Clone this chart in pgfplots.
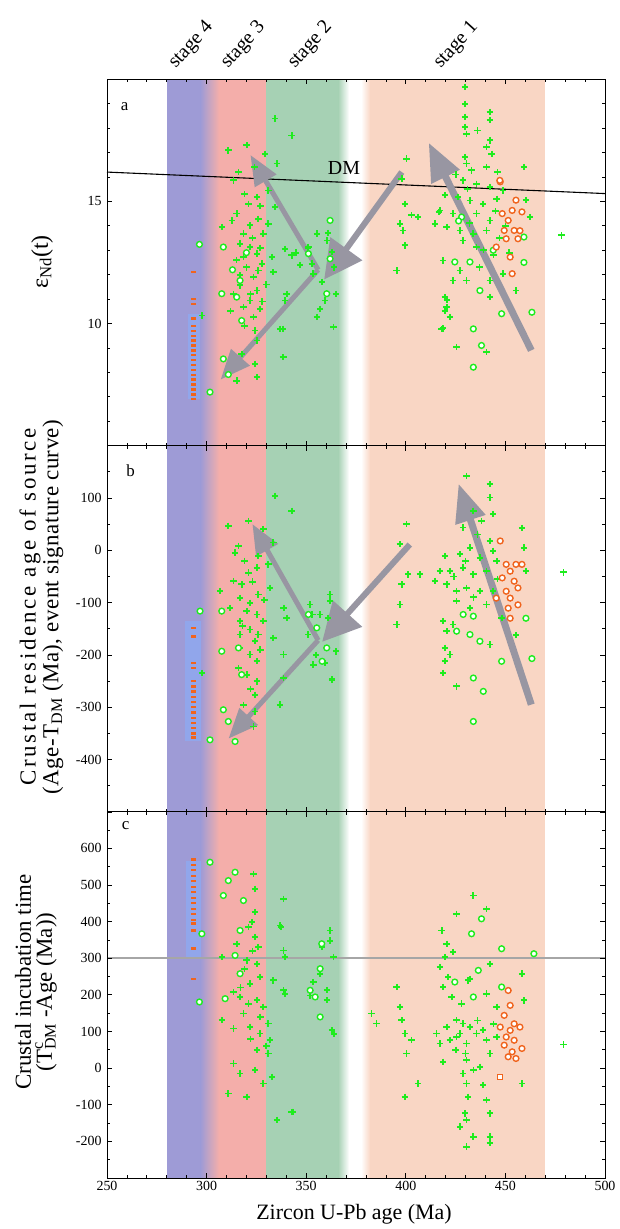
\documentclass[border=0pt]{standalone}
\usepackage{fontspec}
\setmainfont{Liberation Serif}
\usepackage{graphicx}
\usepackage{pgfplots}
\pgfplotsset{compat=1.18}
\usetikzlibrary{arrows.meta}

\definecolor{bandblue}{RGB}{158,155,214}
\definecolor{bandred}{RGB}{244,174,170}
\definecolor{bandgreen}{RGB}{166,209,180}
\definecolor{bandorange}{RGB}{249,214,196}
\definecolor{ptgreen}{RGB}{30,236,30}
\definecolor{ptorange}{RGB}{240,100,30}
\definecolor{arrowgray}{RGB}{152,150,162}
\definecolor{glowblue}{RGB}{140,172,245}

% coloured stage bands, drawn inside each panel
\newcommand{\bands}[2]{%
  \fill[bandblue] (axis cs:280,#1) rectangle (axis cs:297.2,#2);
  \shade[left color=bandblue,right color=bandred] (axis cs:297,#1) rectangle (axis cs:306.2,#2);
  \fill[bandred] (axis cs:306,#1) rectangle (axis cs:330.2,#2);
  \fill[bandgreen] (axis cs:330,#1) rectangle (axis cs:366.2,#2);
  \shade[left color=bandgreen,right color=white] (axis cs:366,#1) rectangle (axis cs:371.5,#2);
  \shade[left color=white,right color=bandorange] (axis cs:377.5,#1) rectangle (axis cs:382.2,#2);
  \fill[bandorange] (axis cs:382,#1) rectangle (axis cs:470,#2);
}

\tikzset{bigarrow/.style={arrowgray, line width=#1}}

\pgfplotsset{
  panel/.style={
    scale only axis, width=498bp, height=366.3bp,
    xmin=250, xmax=500, xtick={250,300,...,500}, minor x tick num=4,
    xticklabels={},
    tick align=inside, xtick pos=both, ytick pos=both,
    major tick length=5bp, minor tick length=3bp,
    axis on top, clip=false,
    axis line style={line width=0.9pt},
    every tick/.style={black, line width=0.7pt},
    tick label style={font=\fontsize{14}{16}\selectfont},
    yticklabel style={xshift=-2bp},
  },
  gplus/.style={only marks, mark=+, mark size=3.2pt, line width=1.8pt, color=ptgreen},
  gring/.style={only marks, mark=*, mark size=2.9pt, line width=1.4pt,
                draw=ptgreen, fill=white},
  oring/.style={only marks, mark=*, mark size=2.9pt, line width=1.4pt,
                draw=ptorange, fill=white},
  obar/.style={only marks, mark=-, mark size=2.6pt, line width=2.4pt, color=ptorange},
}

\begin{document}
\begin{tikzpicture}
\useasboundingbox (0,0) rectangle (620bp,1229bp);

% ================= panel a =================
\begin{axis}[panel, at={(107bp,783.4bp)}, anchor=south west,
  ymin=5, ymax=20, ytick={5,10,15,20}, yticklabels={,10,15,}, minor y tick num=4]
\bands{5}{20}
\fill[glowblue, opacity=0.7] (axis cs:290.5,6.9) rectangle (axis cs:296.5,10.4);
\addplot[black, line width=1.1pt] coordinates {(250,16.2) (500,15.32)};
% trend arrows
\draw[bigarrow=7bp, -{Triangle[width=30bp,length=38bp]}]
  (axis cs:463,8.9) -- (axis cs:411.5,17.4);
\draw[bigarrow=6bp, -{Triangle[width=38bp,length=38bp]}]
  (axis cs:398,16.2) -- (axis cs:359,11.8);
\draw[bigarrow=5bp, -{Triangle[width=24bp,length=30bp]}]
  (axis cs:356,12.2) -- (axis cs:307,7.7);
\draw[bigarrow=5bp, -{Triangle[width=24bp,length=30bp]}]
  (axis cs:356,12.2) -- (axis cs:322,16.9);
\addplot[obar] coordinates {(293.5,12.1) (293.5,11.0) (293.5,10.8) (293.5,10.2) (293.5,9.9)
  (293.5,9.7) (293.5,9.5) (293.5,9.3) (293.5,9.1) (293.5,8.9) (293.5,8.7) (293.5,8.5)
  (293.5,8.3) (293.5,8.1) (293.5,7.9) (293.5,7.7) (293.5,7.5) (293.5,7.3) (293.5,7.1) (293.5,6.9)};
\addplot[gplus] coordinates {
  (297.6,10.33) (334.4,18.39) (342.7,17.7) (320.1,17.3) (310.9,17.09) (329.4,16.95)
  (335.2,16.55) (316,16.2) (313.5,15.86) (331,15.45) (325.2,15.18) (334.4,14.77) (321,14.9)
  (315.1,14.5) (326,14.29) (331,14.09) (312.6,14.22) (307.6,13.95) (321.8,14.02) (318.5,13.68)
  (328.5,13.68) (316.8,13.27) (321.8,13.13) (325.2,12.86) (318.5,12.72) (339.4,13.06)
  (342.7,12.79) (332.7,12.72) (327.7,12.45) (326,12.17) (316.8,11.97) (323.5,11.9) (333.5,12.1)
  (316.8,11.56) (325.2,11.35) (313.5,11.2) (321.8,10.94) (340.2,11.22) (339.4,10.94)
  (318.5,10.67) (326.8,10.6) (323.5,10.26) (324.3,9.71) (325.2,9.3) (336.9,9.78) (317.6,8.76)
  (324.3,8.35) (338.6,8.62) (315.1,7.66) (325.2,7.8) (319,15.3) (323,13.5) (320,12.3)
  (327,13.1) (322,11.2) (319,9.9) (328,10.9) (330,11.6) (315,12.6) (312,10.5) (324,16.4)
  (327,14.8)
  (351.1,13.13) (355.3,13.68) (360.3,13.4) (362.8,12.92) (352.8,12.45) (353.6,12.04)
  (357.8,11.7) (359.5,10.94) (357,10.6) (355.3,10.26) (363.7,9.85) (347,12.4) (351,13.1)
  (365,11.2) (338.2,9.78) (338.2,8.62) (345,12.9) (361,13.7) (364,12.3)
  (429.7,19.69) (429.7,19.0) (429.7,18.46) (442.2,18.66) (442.2,18.32) (429.7,18.05)
  (430.5,17.77) (442.2,17.5) (440.5,17.23) (443.1,16.95) (429.7,16.82) (430.5,16.55)
  (440.5,16.41) (433,16.27) (400.4,16.75) (397.9,15.93) (428.8,15.86) (435.5,15.72)
  (442.2,15.59) (448.9,15.45) (419.6,15.25) (426.3,15.18) (432.2,15.04) (438.9,14.9)
  (445.6,15.11) (417.1,14.63) (423.8,14.5) (435.5,14.5) (442.2,14.22) (399.5,14.9) (397,14.09)
  (402.9,14.43) (406.2,14.36) (414.6,14.09) (420.5,13.95) (427.2,13.81) (433.9,13.68)
  (440.5,13.81) (428.8,13.4) (435.5,13.13) (399.5,13.2) (398.7,13.81) (395.4,12.17)
  (418.8,12.58) (427.2,12.17) (430.5,11.76) (423.8,11.76) (442.2,11.76) (442.2,11.08)
  (448.9,12.04) (419.6,11.08) (420.5,10.67) (422.1,10.26) (418,9.78) (425.5,9.03) (440.5,8.83)
  (459.3,16.4) (460.3,15.05) (462.3,14.36) (455.3,11.35) (478.2,13.61) (416.6,14.57)
  (420.6,10.95) (419.6,10.5) (418.6,9.8) (445,14.6) (447,13.5) (444,12.8) (437,12.3)
  (431,15.5) (425,16.1) (436,17.9) (446,16.2) (450,14.0) (452,12.9) (439,13.0) (432,14.1)};
\addplot[gring] coordinates {
  (296.4,13.24) (308.4,13.13) (307.6,11.22) (316.8,11.76) (315.1,11.08) (317.6,10.12)
  (308.4,8.55) (310.9,7.91) (301.7,7.19) (362,14.22) (360.3,11.22) (351.1,12.86) (362,12.65)
  (428,14.36) (443.9,13.0) (424.6,12.52) (432.2,12.52) (437.2,11.35) (433.9,9.78) (448.1,10.4)
  (438,9.1) (433.9,8.21) (459.3,13.54) (459.3,12.5) (463.3,10.46) (426.5,14.2) (313,12.2)
  (320,12.9)};
\addplot[oring] coordinates {
  (447.4,15.8) (455.3,15.05) (458.3,14.57) (453.4,14.63) (451.4,14.22) (454.4,13.81)
  (449.4,13.81) (456.3,13.47) (450.4,13.47) (445.4,13.13) (452.4,12.72) (453.4,12.04)
  (457.3,13.8) (448.4,14.5) (447.2,15.86)};
\node[font=\fontsize{20}{20}\selectfont, anchor=south, inner sep=1bp] at (axis cs:369,16.05) {DM};
\node[font=\fontsize{17}{17}\selectfont] at (axis cs:258.8,18.9) {a};
\end{axis}

% ================= panel b =================
\begin{axis}[panel, at={(107bp,417.1bp)}, anchor=south west,
  ymin=-500, ymax=200, ytick={-500,-400,...,200},
  yticklabels={,-400,-300,-200,-100,0,100,}, minor y tick num=1]
\bands{-500}{200}
\fill[glowblue, opacity=0.7] (axis cs:289,-365) rectangle (axis cs:297,-135);
\draw[bigarrow=7bp, -{Triangle[width=30bp,length=38bp]}]
  (axis cs:463,-295) -- (axis cs:426.5,127);
\draw[bigarrow=6bp, -{Triangle[width=38bp,length=38bp]}]
  (axis cs:402,11) -- (axis cs:358,-175);
\draw[bigarrow=5bp, -{Triangle[width=24bp,length=30bp]}]
  (axis cs:356,-172) -- (axis cs:311,-360);
\draw[bigarrow=5bp, -{Triangle[width=24bp,length=30bp]}]
  (axis cs:356,-172) -- (axis cs:323,50);
\addplot[obar] coordinates {(293.5,-148) (293.5,-165) (293.5,-215) (293.5,-225) (293.5,-250)
  (293.5,-260) (293.5,-270) (293.5,-280) (293.5,-290) (293.5,-300) (293.5,-310) (293.5,-320)
  (293.5,-330) (293.5,-340) (293.5,-350) (293.5,-358)};
\addplot[gplus] coordinates {
  (334.4,104.1) (342.7,75.4) (310.9,46.6) (321,56.2) (328.5,40.2) (316,8.3) (314.3,-4.5)
  (333.5,14.7) (326,-10.9) (325.2,-33.2) (331,-26.9) (321,-42.8) (313.5,-58.8) (317.6,-65.2)
  (331.9,-71.6) (306.8,-78) (326,-84.4) (316.8,-90.8) (321.8,-100.3) (311.8,-109.9)
  (320.1,-116.3) (325.2,-122.7) (338.6,-109.9) (340.2,-129.1) (316.8,-135.5) (328.5,-135.5)
  (321.8,-151.5) (316.8,-161) (326,-161) (333.5,-167.4) (338.6,-199.4) (324.3,-173.8)
  (316.8,-186.6) (321.8,-199.4) (325.2,-212.2) (316,-225) (320.1,-237.7) (325.2,-250.5)
  (324.3,-276.1) (338.6,-244.1) (336.9,-295.2) (324.3,-308) (323.5,-336.8) (318.5,-295.2)
  (297.6,-234.5) (319,-20) (323,-60) (329,-95) (318,-145) (327,-190) (322,-265)
  (357,-122.7) (362,-84.4) (353.6,-218.6) (359.5,-215.4) (362.8,-247.3) (352,-103.5)
  (353.1,-122.8) (361,-129) (362,-97) (351,-161) (365,-193.2) (363,-246.7) (355,-200)
  (339,-110) (337,-295)
  (430.5,142.4) (442.2,126.5) (442.2,100.9) (433.9,75.3) (428.8,43.4) (438,56.2) (443.9,69)
  (400.4,49.8) (397,11.5) (442.2,17.8) (432.2,5) (427.2,-7.7) (437.2,-14.1) (443.9,-1.3)
  (419.6,-10.9) (417.1,-39.7) (422.1,-39.7) (428.8,-33.3) (433.9,-46.1) (440.5,-39.7)
  (445.6,-20.5) (401.2,-46.1) (407.1,-46.1) (397.9,-65.2) (397,-103.6) (414.6,-58.8)
  (420.5,-65.2) (425.5,-78) (430.5,-71.6) (437.2,-78) (443.9,-78) (425.5,-97.2) (432.2,-110)
  (440.5,-103.6) (448.1,-129.1) (418.8,-135.5) (423.8,-141.9) (395.4,-141.9) (420.5,-154.7)
  (442.2,-180.3) (419.6,-186.6) (422.1,-199.4) (419.6,-212.2) (418.8,-234.6) (425.5,-260.1)
  (458.3,42.7) (459.3,5) (460.3,-40) (455.3,-162) (479.2,-42.3) (436,30) (430,-20) (446,-55)
  (424,-50) (434,-90)};
\addplot[gring] coordinates {
  (296.7,-116.3) (307.6,-116.3) (307.6,-193) (316,-186.6) (317.6,-237.7) (308.4,-304.8)
  (310.9,-327.2) (301.7,-362.3) (314.3,-365.5) (351.1,-122.7) (355.3,-148.3) (360.3,-186.6)
  (358,-212.2) (428.8,-122.7) (433.9,-126) (425.5,-154.7) (432.2,-161) (437.2,-173.9)
  (448.1,-212.2) (433.9,-244.1) (438.9,-269.7) (433.9,-327.2) (460.3,-130) (463.3,-207)};
\addplot[oring] coordinates {
  (447.4,17.8) (450.4,-27) (455.3,-27) (458.3,-27) (452.4,-40) (448.4,-52.8) (454.4,-59.2)
  (450.4,-78.4) (456.3,-72) (452.4,-91.5) (445.4,-91.5) (451.4,-110.7) (452.4,-130)
  (456.3,-104.3)};
\node[font=\fontsize{17}{17}\selectfont] at (axis cs:261.8,152) {b};
\end{axis}

% ================= panel c =================
\begin{axis}[panel, at={(107bp,51bp)}, anchor=south west,
  ymin=-300, ymax=700, ytick={-300,-200,...,700},
  yticklabels={,-200,-100,0,100,200,300,400,500,600,}, minor y tick num=1,
  xticklabels={250,300,350,400,450,500}]
\bands{-300}{700}
\fill[glowblue, opacity=0.7] (axis cs:289.5,300) rectangle (axis cs:297,566);
\addplot[black!35, line width=1.5pt] coordinates {(250,300) (500,300)};
\addplot[obar] coordinates {(293.5,570) (293.5,555) (293.5,540) (293.5,525) (293.5,510)
  (293.5,495) (293.5,480) (293.5,465) (293.5,450) (293.5,435) (293.5,420) (293.5,405)
  (293.5,395) (293.5,376) (293.5,326) (293.5,244)};
\addplot[gplus] coordinates {
  (323.5,530) (324.3,489.3) (338.6,462) (324.3,425.8) (322.7,398.5) (321,384.9) (324.3,357.6)
  (315.1,339.5) (326,330.4) (336.9,389.4) (338.6,321.3) (307.6,303.2) (320.1,294.1)
  (325.2,285) (326.8,248.7) (321.8,230.5) (313.5,207.8) (316.8,194.2) (333.5,239.6)
  (338.6,212.4) (321,176) (325.2,185.1) (328.5,167) (318.5,148.8) (307.6,130.6) (313.5,108)
  (321.8,112.5) (331,121.6) (326.8,94.3) (331.9,76.2) (325.2,49) (331,39.8) (313.5,12.6)
  (316.8,-14.6) (324.3,-5.6) (332.7,-23.7) (328.5,-41.9) (310.9,-69.1) (320.1,-78.2)
  (342.7,-119) (337.2,384.6) (339.2,302.6) (339.2,202.7) (343.2,-119) (335.2,-142) (319,270)
  (323,320) (317,220) (327,140) (330,60) (322,80)
  (362,375.8) (360.3,185.1) (362.8,103.4) (360.3,212.4) (353.6,235) (363.7,303) (357,257)
  (358,330) (362,348) (364,94) (352.1,198)
  (433.9,471) (440.5,434.8) (425.5,421.2) (418,375.8) (420.5,339.5) (419.6,303.2)
  (423.8,316.8) (442.2,285) (432.2,244.1) (418.8,221.4) (431.3,239.6) (423,194.2) (428,176)
  (440.5,203.3) (395.4,221.4) (382.8,148.8) (385.3,121.6) (397,167) (397.9,130.6)
  (399.5,94.3) (402.9,76.2) (400.4,39.8) (406.2,-41.9) (399.5,-78.2) (415.4,94.3)
  (420.5,112.5) (425.5,130.6) (428.8,121.6) (432.2,112.5) (435.5,94.3) (438.9,103.4)
  (427.2,94.3) (417.1,67.1) (422.1,76.2) (430.5,67.1) (440.5,76.2) (445.6,85.2) (418.8,17.1)
  (430.5,21.7) (428.8,-14.6) (437.2,3.5) (442.2,39.8) (430.5,-41.9) (438.9,-46.4)
  (431.3,-78.2) (440.5,-87.3) (429.7,-123.6) (442.2,-123.6) (427.2,-159.9) (430.5,-141.8)
  (442.2,-187.2) (430.5,-214.4) (442.2,-205.3) (433.9,-187.2) (425.5,85.2) (445.6,167)
  (417.1,276) (421.3,248.7) (459.3,185) (458.3,257.8) (458.3,-42) (479.2,64.6) (430,40)
  (436,130) (444,120) (434,-5) (425,50)};
\addplot[gring] coordinates {
  (301.7,562) (314.3,534.7) (310.9,512) (308.4,471.2) (318.5,457.5) (316.8,375.8)
  (314.3,307.7) (316.8,257.8) (309.3,189.6) (297.6,366.7) (296.4,180.6) (357.8,339.5)
  (357,271.4) (352,212.4) (354.5,194.2) (357,139.7) (438,407.6) (433,366.7) (448.1,325.9)
  (436.4,266.8) (424.6,235) (448.1,221.4) (433.9,194.2) (464.3,312.3)};
\addplot[oring] coordinates {
  (451.4,212) (452.4,171.3) (449.4,144) (454.4,121) (447.4,112) (452.4,103) (457.3,112)
  (450.4,85) (454.4,76) (449.4,62.6) (453.4,44.5) (458.3,53.6) (451.4,30.9) (455.3,26.3)};
\addplot[only marks, mark=square*, mark size=2.6pt, line width=1.2pt, draw=ptorange, fill=white]
  coordinates {(447.4,-23.6)};
\node[font=\fontsize{17}{17}\selectfont] at (axis cs:259.4,662) {c};
\end{axis}

% ================= stage labels (above panel a) =================
\node[anchor=south west, inner sep=0pt] at (166bp,1157bp)
  {\rotatebox{48}{\fontsize{20}{20}\selectfont stage 4}};
\node[anchor=south west, inner sep=0pt] at (218bp,1157bp)
  {\rotatebox{48}{\fontsize{20}{20}\selectfont stage 3}};
\node[anchor=south west, inner sep=0pt] at (285bp,1157bp)
  {\rotatebox{48}{\fontsize{20}{20}\selectfont stage 2}};
\node[anchor=south west, inner sep=0pt] at (431bp,1157bp)
  {\rotatebox{48}{\fontsize{20}{20}\selectfont stage 1}};

% ================= axis titles =================
\node[rotate=90, font=\fontsize{24}{24}\selectfont] at (42bp,967bp) {ε\textsubscript{Nd}(t)};
\node[rotate=90, font=\fontsize{23}{23}\selectfont\addfontfeature{LetterSpace=12}]
  at (30bp,622bp) {Crustal residence age of source};
\node[rotate=90, font=\fontsize{23}{23}\selectfont\addfontfeature{LetterSpace=2}]
  at (53bp,622bp) {(Age-T\textsubscript{DM} (Ma), event signature curve)};
\node[rotate=90, font=\fontsize{23}{23}\selectfont] at (23bp,247bp) {Crustal incubation time};
\node[rotate=90, font=\fontsize{23}{23}\selectfont]
  at (46bp,237bp) {(T\rlap{\textsuperscript{c}}\textsubscript{DM} -Age (Ma))};
\node[font=\fontsize{22}{22}\selectfont] at (354bp,15bp) {Zircon U-Pb age (Ma)};
\end{tikzpicture}
\end{document}
